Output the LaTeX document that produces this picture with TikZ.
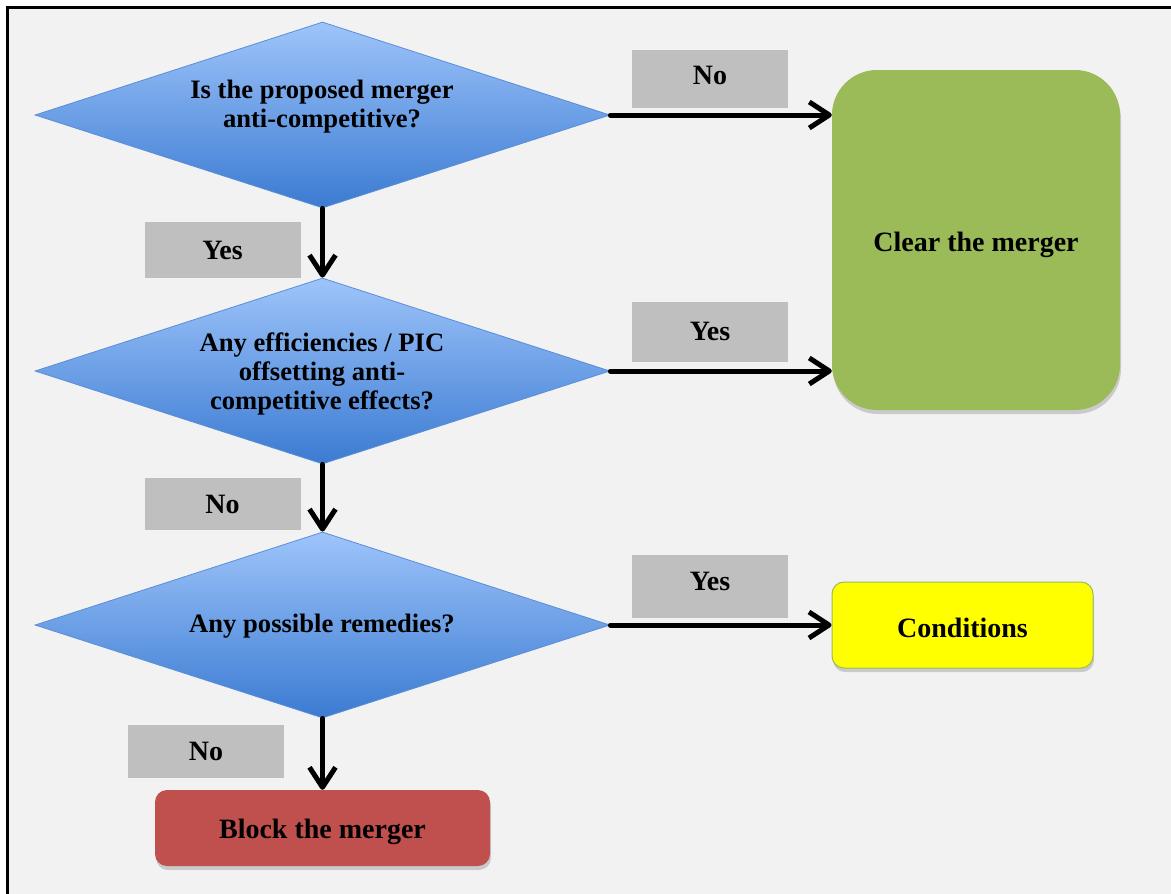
\documentclass[tikz,border=0pt]{standalone}
\usepackage{fontspec}
\setmainfont{Liberation Serif}
\usetikzlibrary{shapes.geometric,arrows.meta,shadows}
\definecolor{bgray}{HTML}{F2F2F2}
\definecolor{lblgray}{HTML}{BFBFBF}
\definecolor{dtop}{HTML}{9EC4FA}
\definecolor{dbot}{HTML}{3B7BD2}
\definecolor{dedge}{HTML}{5A8ED8}
\definecolor{greenbox}{HTML}{9BBB59}
\definecolor{redbox}{HTML}{C0504D}
\definecolor{yelbox}{HTML}{FFFF00}
\begin{document}
\begin{tikzpicture}[x=1pt,y=-1pt,
  txt/.style={font=\fontsize{26.6}{29}\selectfont\bfseries, align=center, inner sep=0pt},
  decision/.style={diamond, draw=dedge, line width=0.8pt, top color=dtop, bottom color=dbot,
     minimum width=575pt, minimum height=186pt, inner sep=0pt},
  lbl/.style={fill=lblgray, minimum width=156pt, inner sep=0pt, font=\fontsize{28}{30}\selectfont\bfseries},
  outbox/.style={rounded corners=#1, inner sep=0pt, font=\fontsize{28}{30}\selectfont\bfseries,
     drop shadow={shadow xshift=1pt, shadow yshift=-4pt, opacity=0.35}},
  flow/.style={line width=5pt, line cap=round, -{Straight Barb[length=20pt,width=26pt,line join=round]}}
]
\useasboundingbox (0,0) rectangle (1171,894);
\fill[white] (0,0) rectangle (1171,894);
\fill[bgray] (7,7) rectangle (1171,894);
\draw[line width=3pt] (7,894) -- (7,7) -- (1171,7);

% decisions
\node[decision] (d1) at (322.5,115) {};
\node[decision] (d2) at (322.5,371) {};
\node[decision] (d3) at (322.5,625) {};
\node[txt] (t1) at (322,107) {Is the proposed merger\\anti-competitive?};
\node[txt] (t2) at (322,374) {Any efficiencies / PIC\\offsetting anti-\\competitive effects?};
\node[txt] (t3) at (322,626) {Any possible remedies?};

% outcome boxes
\node[outbox=45pt, fill=greenbox, minimum width=288pt, minimum height=340pt, text height=29pt, text depth=6pt] (clear) at (976,240) {Clear the merger};
\node[outbox=12pt, fill=yelbox, draw=greenbox, line width=1pt, minimum width=261pt, minimum height=86pt, text height=25pt, text depth=0pt] (cond) at (962.5,625) {Conditions};
\node[outbox=12pt, fill=redbox, minimum width=335pt, minimum height=76pt, text height=27pt, text depth=6pt] (block) at (322.5,828) {Block the merger};

% labels
\node[lbl, minimum height=58pt] (l1) at (710,79) {\raisebox{8pt}{No}};
\node[lbl, minimum height=56pt] (l2) at (222.5,250) {Yes};
\node[lbl, minimum height=60pt] (l3) at (710,332) {\raisebox{2pt}{Yes}};
\node[lbl, minimum height=52pt] (l4) at (222.5,504) {No};
\node[lbl, minimum height=63pt] (l5) at (710,586.5) {\raisebox{11pt}{Yes}};
\node[lbl, minimum height=53pt] (l6) at (206,751.5) {No};

% connectors
\draw[flow] (d1.east) -- (d1.east -| clear.west);
\draw[flow] (d2.east) -- (d2.east -| clear.west);
\draw[flow] (d3.east) -- (cond.west);
\draw[flow] (d1.south) -- (d2.north);
\draw[flow] (d2.south) -- (d3.north);
\draw[flow] (d3.south) -- (block.north);
\end{tikzpicture}
\end{document}
